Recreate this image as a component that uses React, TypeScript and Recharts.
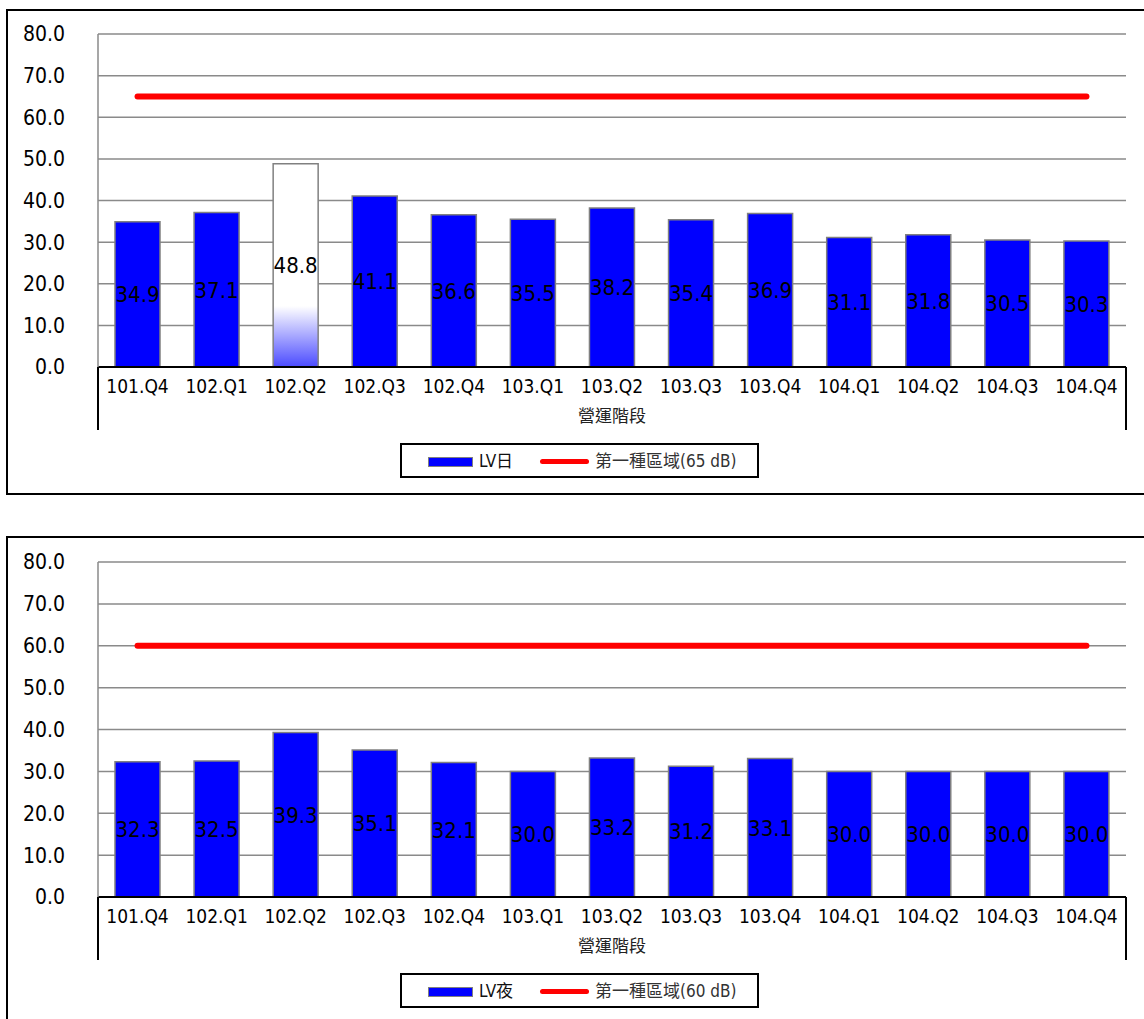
import React from 'react';
import {
  ComposedChart,
  Bar,
  Line,
  XAxis,
  YAxis,
  CartesianGrid,
  LabelList,
  Cell,
  Label,
} from 'recharts';

const categories = [
  '101.Q4', '102.Q1', '102.Q2', '102.Q3', '102.Q4', '103.Q1', '103.Q2',
  '103.Q3', '103.Q4', '104.Q1', '104.Q2', '104.Q3', '104.Q4',
];
const dayValues = [34.9, 37.1, 48.8, 41.1, 36.6, 35.5, 38.2, 35.4, 36.9, 31.1, 31.8, 30.5, 30.3];
const nightValues = [32.3, 32.5, 39.3, 35.1, 32.1, 30.0, 33.2, 31.2, 33.1, 30.0, 30.0, 30.0, 30.0];
const dayLimit = 65;
const nightLimit = 60;
const yTicks = [0, 10, 20, 30, 40, 50, 60, 70, 80];
const xAxisTitle = '營運階段';
const daySeriesName = 'LV日';
const nightSeriesName = 'LV夜';
const dayLimitName = '第一種區域(65 dB)';
const nightLimitName = '第一種區域(60 dB)';
const highlightedDayIndex = 2;

const FONT = '"DejaVu Sans Condensed", "DejaVu Sans", "Noto Sans CJK TC", sans-serif';

type ChartProps = {
  svgTop: number;
  svgHeight: number;
  plotTop: number;
  plotBottom: number;
  values: number[];
  limit: number;
  seriesName: string;
  limitName: string;
  highlightIndex: number | null;
  gradId: string;
  boxTop: number;
  boxHeight: number;
};

function Legend({ top, seriesName, limitName }: { top: number; seriesName: string; limitName: string }) {
  return (
    <div
      style={{
        position: 'absolute',
        left: 400,
        top,
        width: 359,
        height: 35,
        border: '2px solid #000',
        boxSizing: 'border-box',
        background: '#fff',
        fontSize: 17,
        fontFamily: FONT,
        color: '#111',
      }}
    >
      <div
        style={{
          position: 'absolute',
          left: 26,
          top: 12,
          width: 45,
          height: 10,
          background: '#0000FF',
          border: '1.5px solid #808080',
          boxSizing: 'border-box',
        }}
      />
      <div style={{ position: 'absolute', left: 77, top: 5, lineHeight: '22px', whiteSpace: 'nowrap' }}>
        {seriesName}
      </div>
      <div
        style={{
          position: 'absolute',
          left: 138,
          top: 14,
          width: 49,
          height: 5,
          background: '#FF0000',
          borderRadius: 3,
        }}
      />
      <div style={{ position: 'absolute', left: 193, top: 5, lineHeight: '22px', whiteSpace: 'nowrap', color: '#333' }}>
        {limitName}
      </div>
    </div>
  );
}

function NoiseChart(p: ChartProps) {
  const data = categories.map((c, i) => ({ cat: c, value: p.values[i], limit: p.limit }));
  const axisH = 63;
  const marginTop = p.plotTop - p.svgTop;
  const bottomOffset = p.svgTop + p.svgHeight - p.plotBottom;
  return (
    <>
      <div
        style={{
          position: 'absolute',
          left: 6,
          top: p.boxTop,
          width: 1160,
          height: p.boxHeight,
          border: '2px solid #000',
          boxSizing: 'border-box',
        }}
      />
      <div style={{ position: 'absolute', left: 0, top: p.svgTop }}>
        <ComposedChart
          width={1144}
          height={p.svgHeight}
          data={data}
          margin={{ top: marginTop, right: 18, left: 0, bottom: bottomOffset - axisH }}
          barCategoryGap={0}
        >
          <defs>
            <linearGradient id={p.gradId} x1="0" y1="0" x2="0" y2="1">
              <stop offset="0" stopColor="#FFFFFF" />
              <stop offset="0.7" stopColor="#FFFFFF" />
              <stop offset="1" stopColor="#4B4BFF" />
            </linearGradient>
          </defs>
          <CartesianGrid vertical={false} stroke="#8a8a8a" strokeWidth={1.5} />
          <XAxis
            dataKey="cat"
            interval={0}
            height={axisH}
            axisLine={{ stroke: '#000', strokeWidth: 2 }}
            tickLine={false}
            tickSize={0}
            tickMargin={13}
            tick={{ fill: '#000', fontSize: 19 }}
          >
            <Label value={xAxisTitle} position="insideBottom" offset={8} fill="#222" fontSize={17} />
          </XAxis>
          <YAxis
            domain={[0, 80]}
            ticks={yTicks}
            width={98}
            axisLine={{ stroke: '#8a8a8a', strokeWidth: 1.5 }}
            tickLine={false}
            tickSize={0}
            tickMargin={33}
            tick={{ fill: '#000', fontSize: 21 }}
            tickFormatter={(v: number) => v.toFixed(1)}
            allowDataOverflow
          />
          <YAxis
            yAxisId="right"
            orientation="right"
            domain={[0, 80]}
            width={0}
            axisLine={{ stroke: '#8a8a8a', strokeWidth: 1.5 }}
            tick={false}
            tickLine={false}
          />
          <Bar
            dataKey="value"
            name={p.seriesName}
            fill="#0000FF"
            stroke="#808080"
            strokeWidth={1.5}
            barSize={45}
            isAnimationActive={false}
          >
            {data.map((d, i) => (
              <Cell key={d.cat} fill={i === p.highlightIndex ? `url(#${p.gradId})` : '#0000FF'} />
            ))}
            <LabelList
              dataKey="value"
              position="center"
              fill="#000"
              fontSize={22}
              formatter={(v: number) => Number(v).toFixed(1)}
            />
          </Bar>
          <Line
            dataKey="limit"
            name={p.limitName}
            stroke="#FF0000"
            strokeWidth={6}
            strokeLinecap="round"
            dot={false}
            activeDot={false}
            isAnimationActive={false}
          />
        </ComposedChart>
      </div>
      <div style={{ position: 'absolute', left: 97, top: p.plotBottom, width: 2, height: axisH, background: '#000' }} />
      <div style={{ position: 'absolute', left: 1125, top: p.plotBottom, width: 2, height: axisH, background: '#000' }} />
      <Legend top={p.plotBottom + 76} seriesName={p.seriesName} limitName={p.limitName} />
    </>
  );
}

export default function App() {
  return (
    <div
      style={{
        position: 'absolute',
        left: 0,
        top: 0,
        width: 1144,
        height: 1019,
        overflow: 'hidden',
        background: '#fff',
        fontFamily: FONT,
      }}
    >
      <NoiseChart
        svgTop={0}
        svgHeight={500}
        plotTop={34}
        plotBottom={367}
        values={dayValues}
        limit={dayLimit}
        seriesName={daySeriesName}
        limitName={dayLimitName}
        highlightIndex={highlightedDayIndex}
        gradId="gradDay"
        boxTop={9}
        boxHeight={486}
      />
      <NoiseChart
        svgTop={528}
        svgHeight={491}
        plotTop={562}
        plotBottom={897}
        values={nightValues}
        limit={nightLimit}
        seriesName={nightSeriesName}
        limitName={nightLimitName}
        highlightIndex={null}
        gradId="gradNight"
        boxTop={536}
        boxHeight={600}
      />
    </div>
  );
}
